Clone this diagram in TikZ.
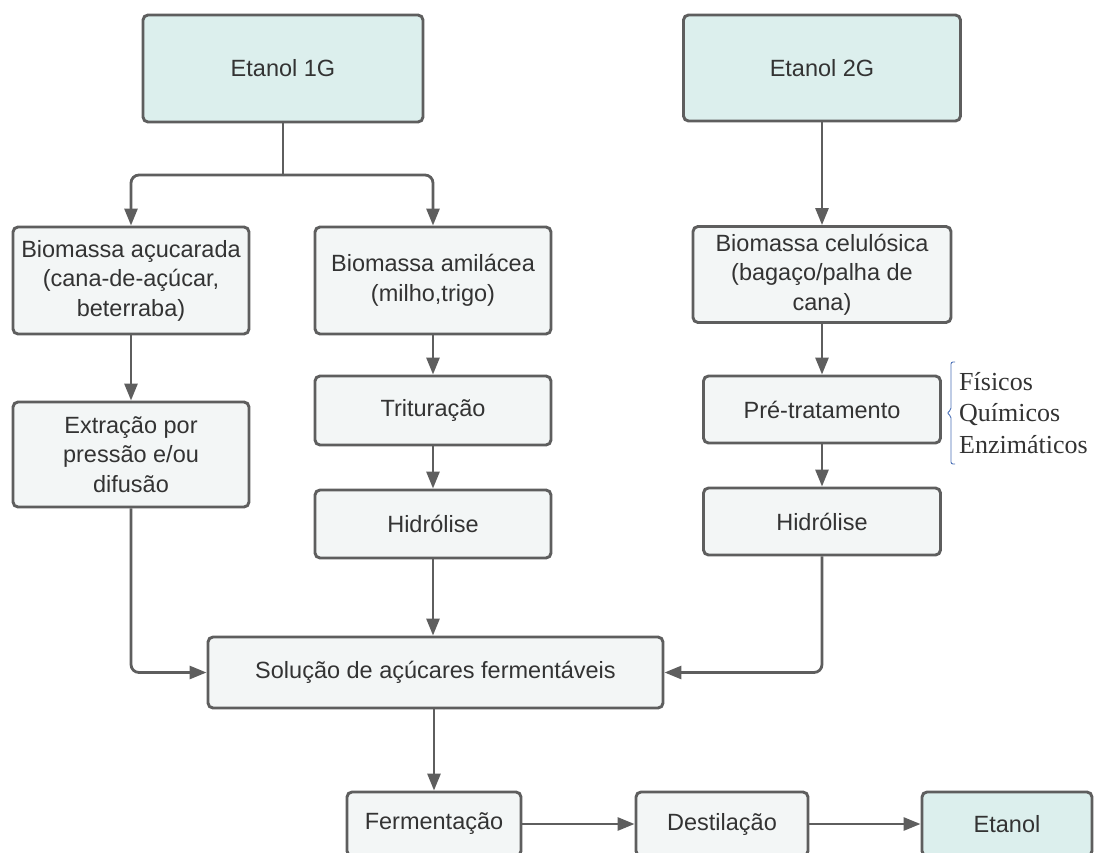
\documentclass[tikz,border=0pt]{standalone}
\usepackage{fontspec}
\setmainfont{Liberation Sans}
\newfontfamily\serifface{Liberation Serif}
\usetikzlibrary{arrows.meta}
\definecolor{lineC}{HTML}{5E5E5E}
\definecolor{boxF}{HTML}{F3F6F6}
\definecolor{tealF}{HTML}{DCEFED}
\definecolor{txtC}{HTML}{333333}
\definecolor{braceC}{HTML}{4A6FB5}
\begin{document}
\begin{tikzpicture}[x=1pt,y=-1pt,
  box/.style={draw=lineC, fill=boxF, line width=2.9pt, rounded corners=5pt, align=center, inner sep=0pt, text=txtC, font=\fontsize{23.5}{29.5}\selectfont},
  tealbox/.style={box, fill=tealF},
  conn/.style={draw=lineC, line width=2.8pt},
  arr/.style={conn, -{Triangle[length=17pt,width=13pt]}},
  note/.style={text=txtC, align=left, anchor=west, inner sep=0pt, font=\serifface\fontsize{26}{31.5}\selectfont},
]
\useasboundingbox (0,0) rectangle (1101,852);
\clip (0,0) rectangle (1101,852);

% top boxes
\node[tealbox, minimum width=280pt, minimum height=107pt] (e1) at (283,68.5) {Etanol 1G};
\node[tealbox, minimum width=277pt, minimum height=106pt] (e2) at (822,68) {Etanol 2G};

% biomass
\node[box, minimum width=236pt, minimum height=107pt] (acu) at (131,280.5) {Biomassa açucarada\\(cana-de-açúcar,\\beterraba)};
\node[box, minimum width=236pt, minimum height=107pt] (ami) at (433,280.5) {Biomassa amilácea\\(milho,trigo)};
\node[box, minimum width=258pt, minimum height=96pt] (cel) at (822,274.5) {Biomassa celulósica\\(bagaço/palha de\\cana)};

% middle steps
\node[box, minimum width=236pt, minimum height=105pt] (ext) at (131,454.5) {Extração por\\pressão e/ou\\difusão};
\node[box, minimum width=236pt, minimum height=69pt] (tri) at (433,410.5) {Trituração};
\node[box, minimum width=236pt, minimum height=68pt] (hid1) at (433,524) {Hidrólise};
\node[box, minimum width=237pt, minimum height=67pt] (pre) at (822,409.5) {Pré-tratamento};
\node[box, minimum width=237pt, minimum height=67pt] (hid2) at (822,521.5) {Hidrólise};

% sugar solution
\node[box, minimum width=455pt, minimum height=71pt] (sol) at (435.5,672.5) {Solução de açúcares fermentáveis};

% bottom row
\node[box, minimum width=174pt, minimum height=64pt] (ferm) at (434,824) {Fermentação};
\node[box, minimum width=172pt, minimum height=64pt] (dest) at (722,824) {Destilação};
\node[tealbox, minimum width=170pt, minimum height=64pt] (etn) at (1007,824) {Etanol};

% note
\node[note] (met) at (959,413) {Físicos\\Químicos\\Enzimáticos};
\draw[braceC, line width=0.9pt, rounded corners=2pt] (955,362) -- (951,362) -- (951,410) -- (947,413) -- (951,416) -- (951,464) -- (955,464);

% connectors
\coordinate (j) at (283,175);
\draw[conn] (e1.south) -- (j);
\draw[arr, rounded corners=8pt] (j) -| (acu.north);
\draw[arr, rounded corners=8pt] (j) -| (ami.north);
\draw[arr] (e2) -- (cel);
\draw[arr] (acu) -- (ext);
\draw[arr] (ami) -- (tri);
\draw[arr] (tri) -- (hid1);
\draw[arr] (cel) -- (pre);
\draw[arr] (pre) -- (hid2);
\draw[arr, rounded corners=8pt] (ext.south) |- (sol.west);
\draw[arr] (hid1.south) -- (hid1.south |- sol.north);
\draw[arr, rounded corners=8pt] (hid2.south) |- (sol.east);
\draw[arr] (ferm.north |- sol.south) -- (ferm.north);
\draw[arr] (ferm) -- (dest);
\draw[arr] (dest) -- (etn);
\end{tikzpicture}
\end{document}
